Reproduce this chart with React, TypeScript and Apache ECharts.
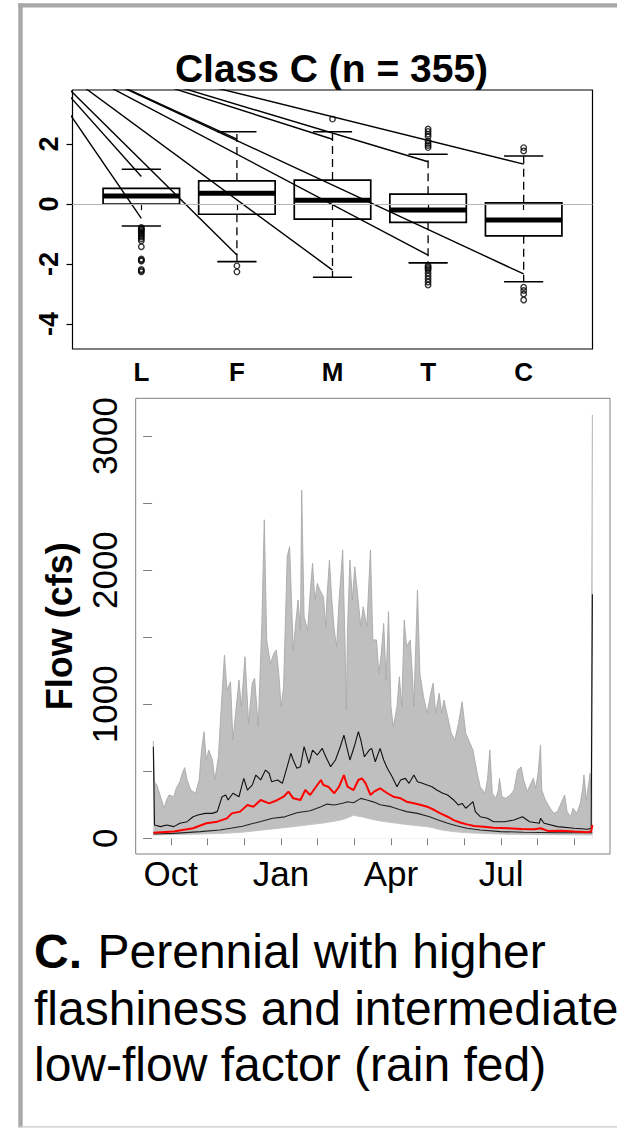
import React, { useEffect, useRef } from 'react';
import * as echarts from 'echarts';

const FONT = '"Liberation Sans", Arial, Helvetica, sans-serif';

// ---------- Box plot (Class C) ----------
const boxCats = ['L', 'F', 'M', 'T', 'C'];
const whiskerLow = [-0.73, -1.92, -2.44, -1.96, -2.59];
const quart1 = [0.0, -0.34, -0.5, -0.61, -1.06];
const medians = [0.27, 0.36, 0.13, -0.2, -0.53];
const quart3 = [0.52, 0.77, 0.8, 0.33, 0.04];
const whiskerHigh = [1.16, 2.41, 2.41, 1.66, 1.6];
const dashedWhisker = [false, true, true, true, true];

const outliersL = [-0.78, -0.82, -0.86, -0.9, -0.95, -1.0, -1.05, -1.1, -1.16, -1.22, -1.42, -1.83, -1.87, -1.9, -2.18, -2.22, -2.26];
const outliersF = [-2.06, -2.26];
const outliersM = [2.83];
const outliersT = [2.5, 2.42, 2.33, 2.25, 2.1, 2.02, 1.95, 1.88, -2.05, -2.1, -2.15, -2.2, -2.3, -2.4, -2.5, -2.6, -2.7];
const outliersC = [1.88, 1.77, -2.77, -2.88, -3.0, -3.2];

const boxTicks = [-4, -2, 0, 2];
const boxCatPos = [1, 2, 3, 4, 5];

// straight lines converging to the upper left
const rayOrigin = [-0.285, 5.5];
const rayEndCat = [1, 1, 2, 2, 3, 3, 4, 4, 5, 5];
const rayEndVal = [0.92, -0.48, 2.16, -1.7, 2.16, -2.2, 1.41, -1.7, 1.33, -2.33];

// ---------- Flow hydrograph (day of water year, cfs) ----------
const flowMax: [number, number][] = [
  [1, 726], [2, 420], [4, 397], [7, 310], [10, 224], [12, 286], [14, 323], [18, 310], [20, 373], [23, 422],
  [25, 485], [27, 527], [29, 435], [32, 360], [36, 336], [39, 435], [41, 658], [43, 795], [45, 584], [47, 658],
  [50, 584], [52, 435], [55, 608], [57, 932], [60, 1367], [62, 1106], [65, 1168], [67, 733], [72, 1180], [74, 981],
  [77, 1354], [80, 857], [83, 1156], [85, 1193], [88, 832], [91, 1603], [93, 2375], [95, 1479], [98, 1305], [101, 1380],
  [103, 1404], [105, 1230], [107, 981], [109, 1130], [112, 2100], [114, 2175], [117, 1404], [119, 1603], [121, 1777], [123, 1553],
  [124, 2597], [126, 1652], [129, 1553], [131, 1827], [133, 2051], [135, 1777], [137, 1901], [139, 1852], [142, 1802], [144, 1578],
  [145, 1802], [147, 2075], [149, 1777], [151, 1553], [153, 1429], [155, 1777], [158, 2150], [160, 1429], [161, 957], [162, 1553],
  [164, 2075], [166, 1777], [168, 2026], [170, 1852], [173, 1578], [175, 1727], [178, 1578], [181, 2150], [183, 1479], [186, 1479],
  [188, 1230], [190, 1380], [192, 1603], [194, 1181], [196, 1690], [198, 981], [200, 832], [203, 981], [205, 1205], [207, 981],
  [209, 1628], [211, 1429], [214, 1479], [216, 1181], [217, 981], [220, 1852], [222, 1230], [225, 1056], [228, 932], [231, 1081],
  [233, 1156], [235, 932], [238, 1081], [240, 932], [242, 1031], [245, 907], [248, 783], [251, 733], [254, 857], [257, 1019],
  [260, 783], [263, 720], [266, 658], [269, 509], [272, 385], [276, 336], [278, 435], [280, 658], [282, 336], [285, 298],
  [287, 360], [288, 447], [290, 310], [293, 298], [297, 323], [300, 360], [303, 509], [306, 532], [308, 435], [311, 348],
  [314, 410], [316, 447], [318, 373], [320, 485], [322, 696], [323, 360], [326, 286], [330, 224], [333, 186], [336, 199],
  [339, 261], [342, 323], [344, 199], [347, 161], [349, 224], [352, 186], [355, 261], [357, 373], [358, 472], [360, 286],
  [362, 410], [363, 485], [364, 336], [365, 3157]
];

const flowMin: [number, number][] = [
  [1, 25], [20, 28], [40, 32], [60, 38], [65, 40], [75, 46], [92, 62], [100, 70], [110, 80], [120, 90],
  [130, 102], [142, 114], [150, 126], [156, 136], [160, 146], [164, 160], [167, 172], [170, 166], [174, 160], [182, 142],
  [190, 128], [198, 118], [205, 110], [212, 102], [220, 94], [230, 84], [240, 62], [250, 50], [260, 42], [273, 37],
  [285, 33], [300, 30], [320, 28], [340, 27], [365, 25]
];

const flowP75: [number, number][] = [
  [1, 683], [2, 99], [7, 87], [12, 99], [18, 87], [23, 112], [29, 124], [34, 161], [38, 174], [44, 186],
  [50, 186], [54, 199], [58, 310], [61, 323], [63, 286], [67, 336], [72, 310], [76, 447], [79, 360], [83, 397],
  [86, 472], [90, 435], [94, 509], [97, 485], [99, 422], [104, 435], [108, 410], [112, 534], [115, 634], [117, 584],
  [120, 522], [123, 534], [126, 683], [130, 559], [133, 658], [137, 621], [141, 671], [144, 608], [148, 534], [152, 584],
  [156, 683], [159, 770], [162, 658], [164, 584], [168, 696], [171, 795], [173, 733], [176, 608], [180, 658], [182, 671],
  [185, 571], [189, 671], [192, 584], [195, 522], [199, 459], [203, 385], [206, 435], [210, 447], [213, 410], [217, 472],
  [220, 422], [224, 410], [228, 397], [232, 385], [236, 360], [241, 336], [245, 323], [250, 286], [254, 248], [257, 260],
  [260, 224], [263, 248], [266, 273], [268, 199], [272, 161], [278, 149], [283, 124], [292, 124], [300, 136], [307, 161],
  [313, 124], [321, 112], [322, 149], [325, 112], [336, 87], [350, 75], [361, 67], [364, 75], [365, 1820]
];

const flowP50: [number, number][] = [
  [1, 42], [18, 50], [34, 75], [45, 112], [54, 124], [62, 149], [66, 186], [73, 199], [79, 248], [84, 236],
  [90, 286], [97, 261], [104, 286], [109, 310], [113, 348], [117, 298], [123, 286], [127, 360], [131, 323], [135, 373],
  [140, 435], [142, 397], [146, 385], [151, 336], [155, 385], [159, 472], [162, 385], [167, 360], [171, 435], [174, 447],
  [177, 410], [181, 323], [184, 348], [189, 373], [195, 336], [200, 310], [206, 298], [211, 273], [217, 261], [223, 248],
  [228, 236], [234, 211], [239, 186], [245, 161], [250, 136], [256, 116], [261, 104], [267, 92], [275, 87], [283, 79],
  [295, 75], [306, 69], [317, 67], [322, 75], [328, 55], [339, 57], [350, 50], [361, 45], [364, 50], [365, 100]
];

const flowP25: [number, number][] = [
  [1, 32], [18, 37], [40, 50], [56, 62], [65, 75], [75, 90], [81, 105], [90, 125], [100, 150], [110, 160],
  [120, 190], [131, 205], [140, 236], [145, 255], [151, 248], [158, 262], [162, 273], [167, 265], [173, 298], [178, 286],
  [184, 270], [189, 250], [198, 236], [205, 215], [211, 199], [220, 186], [230, 161], [236, 140], [245, 112], [253, 92],
  [261, 75], [272, 62], [289, 50], [308, 45], [336, 42], [365, 42]
];

const monthTicks = [15.5, 45.9, 76.3, 106.8, 137.2, 167.6, 198.0, 228.5, 258.9, 289.3, 319.7, 350.2];
const monthLabelDays = [15.5, 106.8, 198.0, 289.3];
const monthLabels = ['Oct', 'Jan', 'Apr', 'Jul'];
const flowTicks = [0, 500, 1000, 1500, 2000, 2500, 3000];
const flowLabelVals = [0, 1000, 2000, 3000];

const captionLines = ['Perennial with higher', 'flashiness and intermediate', 'low-flow factor (rain fed)'];

export default function App() {
  const ref = useRef<HTMLDivElement>(null);

  useEffect(() => {
    if (!ref.current) return;
    const chart = echarts.init(ref.current, null, { renderer: 'svg' });

    const boxData = boxCats.map((_, i) => [
      i + 1, whiskerLow[i], quart1[i], medians[i], quart3[i], whiskerHigh[i], dashedWhisker[i] ? 1 : 0
    ]);
    const outlierData: number[][] = [];
    [outliersL, outliersF, outliersM, outliersT, outliersC].forEach((arr, i) => {
      arr.forEach((v) => outlierData.push([i + 1, v]));
    });

    const raySeries = rayEndCat.map((cx, i) => ({
      type: 'line',
      xAxisIndex: 0,
      yAxisIndex: 0,
      data: [rayOrigin, [cx, rayEndVal[i]]],
      symbol: 'none',
      clip: true,
      silent: true,
      z: 4,
      lineStyle: { color: '#000', width: 1.4 }
    }));

    const seg = (a: number[], b: number[], w: number, dash?: number[]) => ({
      type: 'line',
      shape: { x1: a[0], y1: a[1], x2: b[0], y2: b[1] },
      style: { stroke: '#000', lineWidth: w, lineDash: dash || null }
    });

    const option: any = {
      animation: false,
      backgroundColor: '#fff',
      grid: [
        { left: 72.5, top: 90, width: 520, height: 259, show: true, borderColor: '#000', borderWidth: 1.2, backgroundColor: 'transparent' },
        { left: 135.7, top: 398.3, width: 474.3, height: 455.7, show: true, borderColor: '#808080', borderWidth: 1, backgroundColor: 'transparent' }
      ],
      xAxis: [
        {
          type: 'value', gridIndex: 0, min: 0.28, max: 5.72,
          axisLine: { show: false },
          splitLine: { show: false },
          axisTick: { show: true, customValues: boxCatPos, length: 6, lineStyle: { color: '#000', width: 1.2 } },
          axisLabel: {
            show: true, customValues: boxCatPos, margin: 10,
            formatter: (v: number) => boxCats[Math.round(v) - 1] || '',
            fontFamily: FONT, fontSize: 26, fontWeight: 'bold', color: '#000'
          }
        },
        {
          type: 'value', gridIndex: 1, min: -13.6, max: 379.6,
          axisLine: { show: false },
          splitLine: { show: false },
          axisTick: { show: true, customValues: monthTicks, length: 7, lineStyle: { color: '#808080', width: 1 } },
          axisLabel: {
            show: true, customValues: monthLabelDays, margin: 2,
            formatter: (v: number) => {
              const k = monthLabelDays.findIndex((d) => Math.abs(d - v) < 0.01);
              return k >= 0 ? monthLabels[k] : '';
            },
            fontFamily: FONT, fontSize: 35, color: '#000'
          }
        }
      ],
      yAxis: [
        {
          type: 'value', gridIndex: 0, min: -4.83, max: 3.8,
          axisLine: { show: false },
          splitLine: { show: false },
          axisTick: { show: true, customValues: boxTicks, length: 6, lineStyle: { color: '#000', width: 1.2 } },
          axisLabel: {
            show: true, customValues: boxTicks, rotate: 90, margin: 10,
            formatter: (v: number) => String(v),
            fontFamily: FONT, fontSize: 27, fontWeight: 'bold', color: '#000'
          }
        },
        {
          type: 'value', gridIndex: 1, min: -117, max: 3281,
          axisLine: { show: false },
          splitLine: { show: false },
          axisTick: { show: true, customValues: flowTicks, length: 9, lineStyle: { color: '#808080', width: 1 } },
          axisLabel: {
            show: true, customValues: flowLabelVals, rotate: 90, margin: 14,
            formatter: (v: number) => String(v),
            fontFamily: FONT, fontSize: 35, color: '#000'
          },
          name: 'Flow (cfs)',
          nameLocation: 'middle',
          nameRotate: 90,
          nameGap: 58,
          nameTextStyle: { fontFamily: FONT, fontSize: 36, fontWeight: 'bold', color: '#000' }
        }
      ],
      series: [
        {
          type: 'scatter',
          xAxisIndex: 0, yAxisIndex: 0,
          data: outlierData,
          symbol: 'circle',
          symbolSize: 5.5,
          z: 1,
          itemStyle: { color: 'rgba(0,0,0,0)', borderColor: '#000', borderWidth: 1.4 },
          markLine: {
            silent: true, symbol: ['none', 'none'], label: { show: false },
            lineStyle: { color: '#b5b5b5', width: 1, type: 'solid' },
            data: [{ yAxis: 0 }]
          }
        },
        {
          type: 'custom',
          xAxisIndex: 0, yAxisIndex: 0,
          z: 3,
          data: boxData,
          encode: { x: 0, y: [1, 5] },
          renderItem: (params: any, api: any) => {
            const x = api.value(0) as number;
            const lo = api.value(1), q1 = api.value(2), md = api.value(3), q3 = api.value(4), hi = api.value(5);
            const dashed = api.value(6);
            const c = (a: number, b: number) => api.coord([a, b]);
            const bl = c(x - 0.4, q1);
            const tr = c(x + 0.4, q3);
            const children: any[] = [];
            if (dashed) {
              children.push(seg(c(x, q3), c(x, hi), 1.3, [8, 5]));
              children.push(seg(c(x, q1), c(x, lo), 1.3, [8, 5]));
            }
            children.push({
              type: 'rect',
              shape: { x: bl[0], y: tr[1], width: tr[0] - bl[0], height: bl[1] - tr[1] },
              style: { fill: 'none', stroke: '#000', lineWidth: 1.7 }
            });
            children.push(seg(c(x - 0.4, md), c(x + 0.4, md), 5));
            children.push(seg(c(x - 0.205, hi), c(x + 0.205, hi), 1.6));
            children.push(seg(c(x - 0.205, lo), c(x + 0.205, lo), 1.6));
            return { type: 'group', children };
          }
        },
        ...raySeries,
        {
          type: 'line', xAxisIndex: 1, yAxisIndex: 1, data: flowMax, symbol: 'none', silent: true, z: 2,
          lineStyle: { color: '#a9a9a9', width: 0.9 },
          areaStyle: { color: '#bfbfbf', opacity: 1 }
        },
        {
          type: 'line', xAxisIndex: 1, yAxisIndex: 1, data: flowMin, symbol: 'none', silent: true, z: 2,
          lineStyle: { color: '#c4c4c4', width: 1 },
          areaStyle: { color: '#ffffff', opacity: 1 }
        },
        {
          type: 'line', xAxisIndex: 1, yAxisIndex: 1, data: flowP25, symbol: 'none', silent: true, z: 3,
          lineStyle: { color: '#222', width: 1.1 }
        },
        {
          type: 'line', xAxisIndex: 1, yAxisIndex: 1, data: flowP75, symbol: 'none', silent: true, z: 3,
          lineStyle: { color: '#111', width: 1.1 }
        },
        {
          type: 'line', xAxisIndex: 1, yAxisIndex: 1, data: flowP50, symbol: 'none', silent: true, z: 4,
          lineStyle: { color: '#ff0000', width: 2 }
        }
      ],
      graphic: [
        { type: 'rect', silent: true, shape: { x: 18.3, y: 3.3, width: 600, height: 4.2 }, style: { fill: '#a8a8a8' } },
        { type: 'rect', silent: true, shape: { x: 18.3, y: 3.3, width: 4.4, height: 1124 }, style: { fill: '#a8a8a8' } },
        { type: 'rect', silent: true, shape: { x: 18.3, y: 1126.3, width: 600, height: 1.2 }, style: { fill: '#c8c8c8' } },
        {
          type: 'text', silent: true,
          style: { text: 'Class C (n = 355)', x: 331.5, y: 49, align: 'center', verticalAlign: 'top', font: `bold 39px ${FONT}`, fill: '#000' }
        },
        {
          type: 'text', silent: true,
          style: { text: 'C.', x: 34, y: 927.5, align: 'left', verticalAlign: 'top', font: `bold 48px ${FONT}`, fill: '#000' }
        },
        ...captionLines.map((t, i) => ({
          type: 'text', silent: true,
          style: {
            text: t, x: i === 0 ? 97.5 : 34, y: 927.5 + i * 56.7, align: 'left', verticalAlign: 'top',
            font: `48px ${FONT}`, fill: '#000'
          }
        }))
      ]
    };

    chart.setOption(option);
    return () => chart.dispose();
  }, []);

  return <div ref={ref} style={{ position: 'fixed', left: 0, top: 0, width: 617, height: 1128 }} />;
}
